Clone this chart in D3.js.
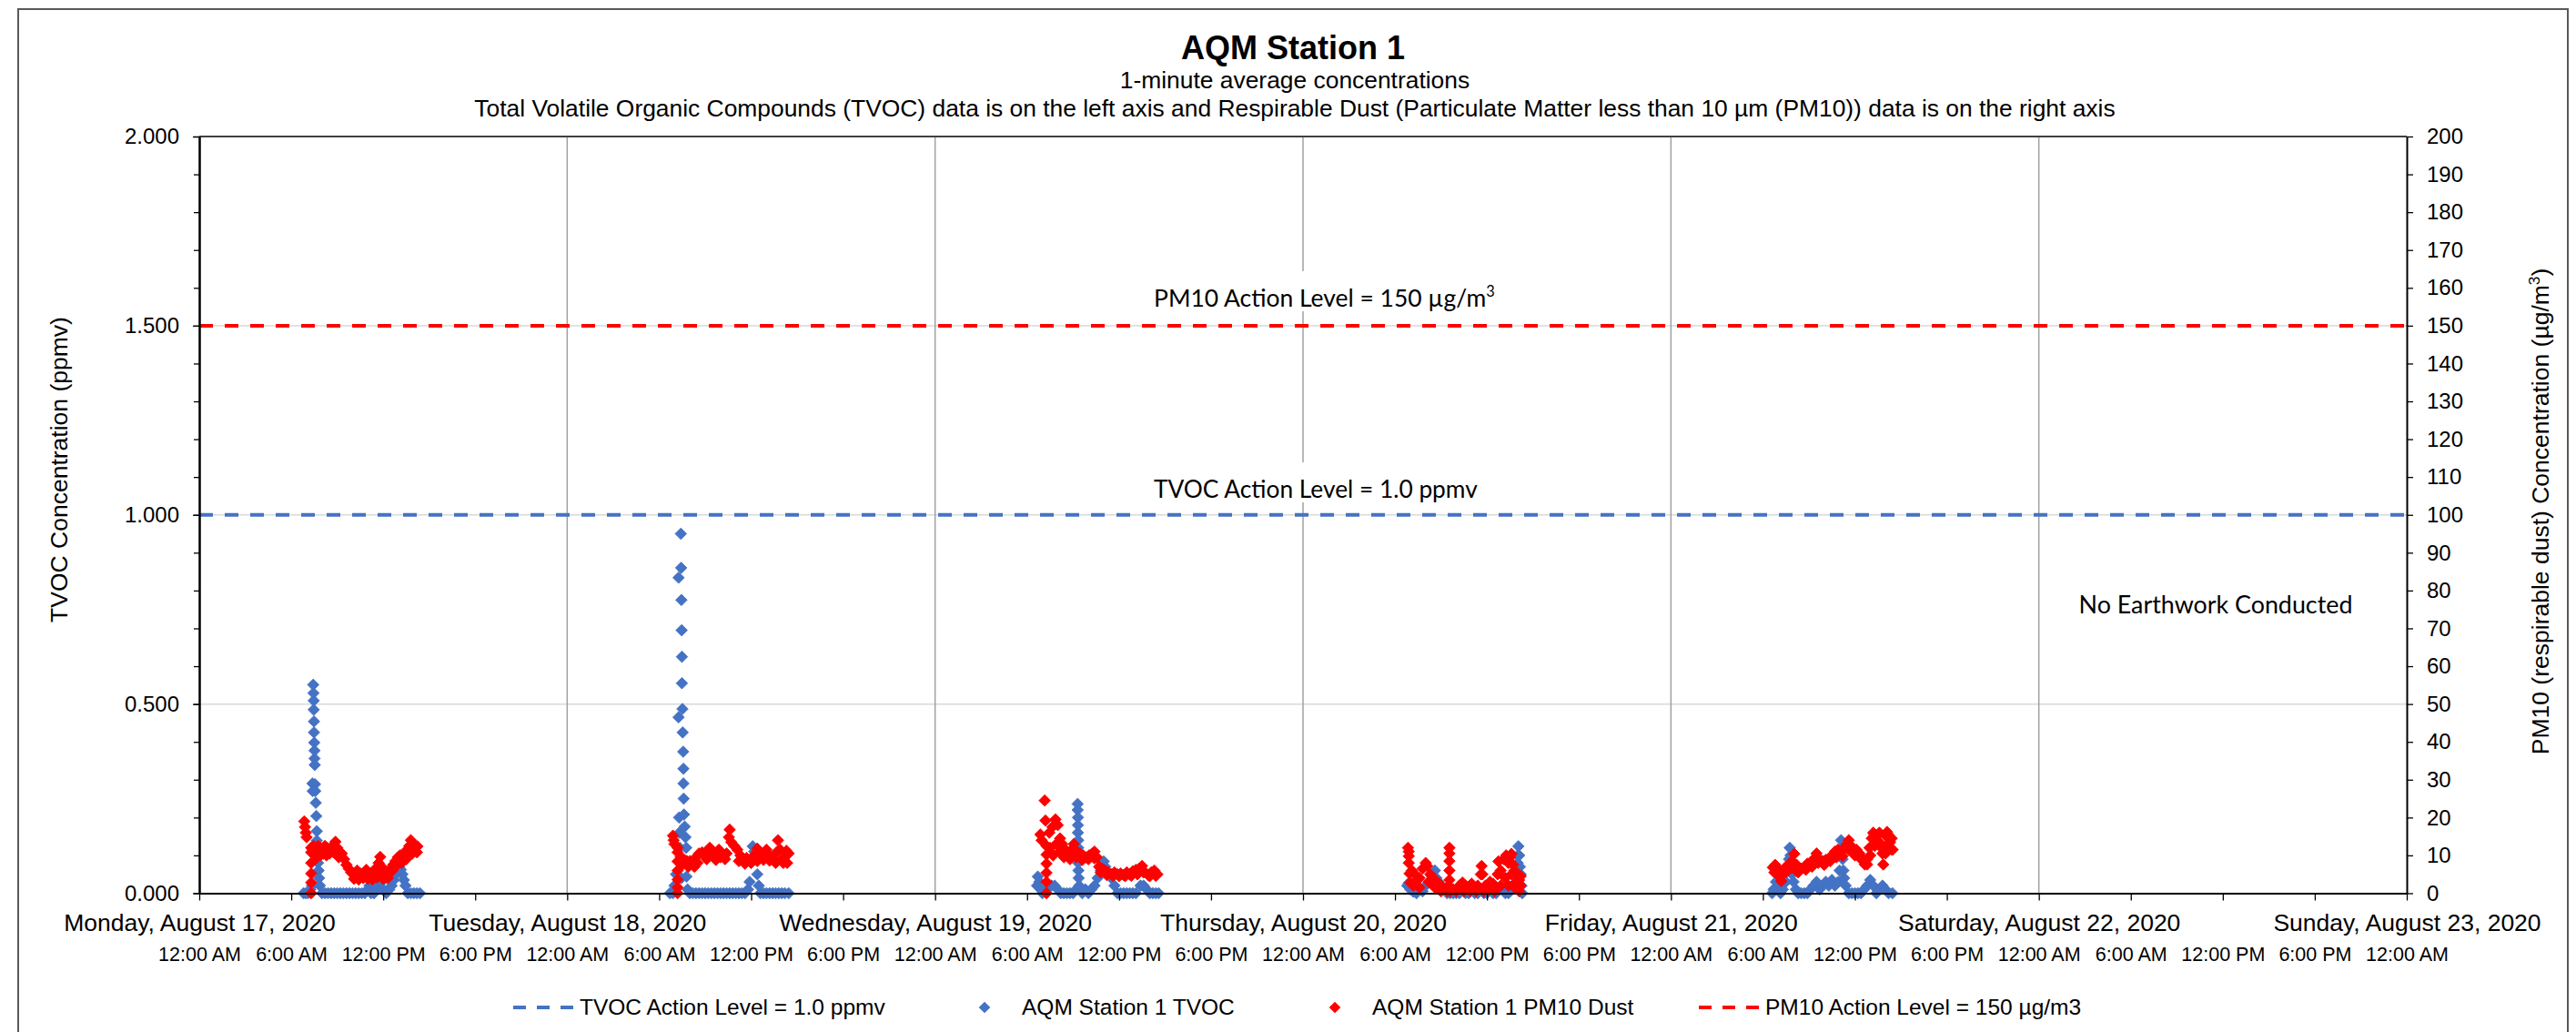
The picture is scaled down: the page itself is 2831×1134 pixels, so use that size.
<!DOCTYPE html>
<html><head><meta charset="utf-8">
<script src="https://cdn.jsdelivr.net/npm/d3@7"></script>
<style>body{margin:0;background:#fff;overflow:hidden}</style>
</head><body>
<svg id="chart" width="2831" height="1134"></svg>
<script>
// ---------------- DATA ----------------
const dayLabels = ["Monday, August 17, 2020","Tuesday, August 18, 2020","Wednesday, August 19, 2020","Thursday, August 20, 2020","Friday, August 21, 2020","Saturday, August 22, 2020","Sunday, August 23, 2020"];
const timeLabels = ["12:00 AM","6:00 AM","12:00 PM","6:00 PM"];
const tvocTickValues = [0, 0.5, 1.0, 1.5, 2.0];
const tvocMinorTicks = [0,0.1,0.2,0.3,0.4,0.5,0.6,0.7,0.8,0.9,1.0,1.1,1.2,1.3,1.4,1.5,1.6,1.7,1.8,1.9,2.0];
const pm10TickValues = [0,10,20,30,40,50,60,70,80,90,100,110,120,130,140,150,160,170,180,190,200];
const tvocActionLevel = 1.0;   // ppmv (left axis)
const pm10ActionLevel = 150;   // ug/m3 (right axis)

// [hour of day, TVOC ppmv]
const tvocMon = [[6.8,0],[6.95,0],[7.1,0],[7.25,0.01],[7.35,0.02],[7.38,0.29],[7.4,0.27],[7.44,0.551],[7.45,0.529],[7.46,0.509],[7.47,0.485],[7.48,0.454],[7.49,0.425],[7.5,0.398],[7.51,0.377],[7.52,0.356],[7.53,0.339],[7.55,0.288],[7.56,0.27],[7.6,0.239],[7.64,0.204],[7.66,0.164],[7.67,0.139],[7.7,0.12],[7.72,0.1],[7.75,0.08],[7.78,0.06],[7.82,0.04],[7.86,0.02],[8.0,0],[8.2,0],[8.4,0],[8.6,0],[8.8,0],[9.0,0],[9.2,0],[9.4,0],[9.6,0],[9.8,0],[10.0,0],[10.2,0],[10.4,0],[10.6,0],[10.8,0],[11.0,0.01],[11.1,0.02],[11.2,0],[11.4,0],[11.6,0.01],[11.75,0.025],[11.9,0.03],[12.0,0.01],[12.2,0],[12.4,0.01],[12.55,0.02],[12.7,0.035],[12.85,0.05],[12.95,0.06],[13.05,0.068],[13.15,0.062],[13.25,0.05],[13.35,0.035],[13.45,0.02],[13.6,0],[13.8,0],[14.0,0],[14.2,0],[14.4,0]];
const tvocTue = [[6.7,0],[6.9,0],[7.0,0.02],[7.1,0.05],[7.26,0.834],[7.26,0.465],[7.3,0.2],[7.32,0.16],[7.35,0.12],[7.4,0.08],[7.42,0.95],[7.43,0.86],[7.45,0.775],[7.45,0.04],[7.47,0.695],[7.49,0.625],[7.49,0.555],[7.52,0.487],[7.54,0.425],[7.56,0.374],[7.58,0.329],[7.58,0.29],[7.6,0.25],[7.62,0.208],[7.66,0.176],[7.72,0.148],[7.76,0.12],[7.78,0.084],[7.78,0.044],[7.85,0.01],[8.0,0],[8.2,0],[8.4,0],[8.6,0],[8.8,0],[9.0,0],[9.2,0],[9.4,0],[9.6,0],[9.8,0],[10.0,0],[10.2,0],[10.4,0],[10.6,0],[10.8,0],[11.0,0],[11.2,0],[11.4,0],[11.6,0],[11.8,0.01],[11.9,0.03],[12.0,0.08],[12.1,0.124],[12.2,0.11],[12.3,0.09],[12.4,0.05],[12.5,0.02],[12.6,0],[12.8,0],[13.0,0],[13.2,0],[13.4,0],[13.6,0],[13.8,0],[14.0,0],[14.2,0],[14.45,0]];
const tvocWed = [[6.65,0.02],[6.7,0.044],[6.8,0.03],[6.9,0.01],[7.0,0],[7.2,0.01],[7.4,0.02],[7.6,0.02],[7.8,0.02],[8.0,0.01],[8.2,0],[8.4,0],[8.6,0],[8.8,0],[9.0,0],[9.2,0.01],[9.3,0.236],[9.3,0.22],[9.31,0.2],[9.32,0.18],[9.32,0.16],[9.33,0.14],[9.33,0.12],[9.34,0.1],[9.34,0.08],[9.35,0.06],[9.36,0.04],[9.4,0.02],[9.6,0],[9.8,0.01],[10.0,0],[10.2,0.01],[10.4,0.02],[10.6,0.04],[10.8,0.06],[11.0,0.084],[11.1,0.07],[11.3,0.05],[11.5,0.04],[11.7,0.02],[11.9,0],[12.1,0],[12.3,0],[12.5,0],[12.7,0],[12.9,0],[13.1,0],[13.4,0.02],[13.6,0.02],[13.8,0.01],[14.0,0],[14.2,0],[14.4,0],[14.58,0]];
const tvocThu = [[6.8,0.02],[6.9,0.027],[7.0,0.01],[7.2,0.004],[7.4,0],[7.6,0.01],[7.8,0.005],[8.0,0.02],[8.2,0.03],[8.4,0.045],[8.6,0.06],[8.7,0.04],[8.85,0.03],[9.0,0.02],[9.2,0.01],[9.4,0],[9.6,0],[9.8,0],[10.0,0],[10.2,0],[10.4,0.01],[10.6,0],[10.8,0],[11.0,0.01],[11.2,0],[11.4,0],[11.6,0.01],[11.8,0],[12.0,0],[12.2,0.01],[12.4,0],[12.6,0],[12.8,0.01],[13.0,0.01],[13.2,0],[13.4,0],[13.6,0.01],[13.8,0.02],[13.9,0.03],[13.95,0.05],[14.0,0.08],[14.02,0.1],[14.05,0.124],[14.1,0.1],[14.15,0.07],[14.2,0.05],[14.25,0.02],[14.3,0]];
const tvocFri = [[6.6,0],[6.7,0.01],[6.85,0.03],[7.0,0.01],[7.15,0],[7.3,0.01],[7.5,0.03],[7.65,0.06],[7.7,0.09],[7.75,0.12],[7.8,0.1],[7.85,0.07],[7.9,0.05],[8.0,0.03],[8.15,0.01],[8.3,0],[8.5,0],[8.7,0],[8.9,0],[9.1,0.01],[9.3,0.02],[9.5,0.03],[9.7,0.01],[9.9,0.02],[10.1,0.03],[10.3,0.02],[10.5,0.035],[10.7,0.02],[10.9,0.03],[11.0,0.06],[11.05,0.1],[11.1,0.14],[11.15,0.12],[11.2,0.09],[11.25,0.06],[11.3,0.04],[11.4,0.02],[11.6,0],[11.8,0],[12.0,0],[12.2,0],[12.4,0],[12.6,0.01],[12.8,0.02],[13.0,0.035],[13.2,0.02],[13.4,0],[13.6,0.01],[13.8,0.02],[14.0,0.01],[14.2,0],[14.45,0]];

// [hour of day, PM10 ug/m3]
const pm10Mon = [[6.85,19.0],[6.9,17.5],[6.95,16],[7.0,14.8],[7.3,12],[7.3,10.8],[7.3,8],[7.3,5.2],[7.3,2.8],[7.3,0],[7.45,12.5],[7.6,11.5],[7.75,12.5],[7.9,12],[8.05,11.5],[8.2,12.5],[8.35,12],[8.5,11.5],[8.7,12.5],[8.88,13.6],[9.0,12],[9.15,11],[9.3,10.5],[9.45,9],[9.6,7.5],[9.75,6.5],[9.9,5.5],[10.05,5],[10.2,4.5],[10.35,4.8],[10.5,5.2],[10.65,4.6],[10.8,5],[10.95,5.5],[11.1,4.8],[11.25,5.2],[11.4,4.6],[11.55,5.5],[11.7,8],[11.8,9.6],[11.9,7],[12.05,5],[12.2,4.5],[12.35,5.5],[12.5,6.5],[12.65,7.5],[12.8,8.5],[12.95,9.5],[13.1,10],[13.25,9.5],[13.4,10.5],[13.55,11.5],[13.7,12.5],[13.8,14],[13.95,13],[14.1,12],[14.24,12.4],
  [7.5,10],[7.7,9.5],[7.9,10],[8.1,10.5],[8.3,10],[8.5,10.5],[8.7,11],[8.9,11],[9.1,9.5],[10.1,3.8],[10.4,3.6],[10.7,4],[11.0,3.8],[11.3,3.6],[11.6,4.2],[12.0,3.8],[12.3,4],[10.3,6],[10.9,6.2],[11.5,6.5],[12.6,6],[12.9,7.5],[13.2,8],[13.5,9],[13.9,10.5],[14.2,10.8]];
const pm10Tue = [[6.9,15.2],[6.95,14],[7.0,13],[7.2,12],[7.2,10.8],[7.2,8.4],[7.2,6],[7.2,3.6],[7.2,1.5],[7.2,0],[7.4,9.5],[7.6,9],[7.8,8.5],[8.0,8.5],[8.2,8],[8.3,7],[8.4,9.5],[8.6,10.5],[8.8,10.8],[9.0,10.5],[9.2,11],[9.4,10.5],[9.6,10.2],[9.8,10.5],[10.0,9.5],[10.2,9.8],[10.4,10.5],[10.55,14.8],[10.6,16.8],[10.7,13.5],[10.9,12.5],[11.1,11.5],[11.3,10],[11.5,9],[11.7,9.3],[11.9,8.8],[12.1,9.5],[12.3,10.5],[12.5,10],[12.7,10.3],[12.9,9.8],[13.1,10.2],[13.3,9.5],[13.5,8.8],[13.7,11],[13.75,14],[13.9,11.5],[14.1,8],[14.2,9.5],[14.3,11.2],[14.45,10.5],
  [7.5,7.5],[7.9,7],[8.5,8],[9.1,9],[9.7,8.8],[10.3,9],[11.2,8.5],[11.6,7.8],[12.0,8],[12.4,8.5],[12.8,8.8],[13.2,8.6],[13.6,8],[14.0,9],[14.35,8],[9.3,12],[9.9,11.5],[12.4,11.8],[13.0,11.5]];
const pm10Wed = [[6.87,15.5],[6.95,14],[7.15,24.5],[7.2,19.2],[7.26,12.5],[7.26,10.2],[7.26,7.8],[7.26,5.4],[7.26,3],[7.26,0],[7.45,16],[7.65,17.5],[7.85,19.5],[8.0,18],[8.15,14.5],[8.3,13],[8.5,11.5],[8.7,10.5],[8.9,11.5],[9.05,13],[9.25,11],[9.45,10.5],[9.65,10],[9.85,9.5],[10.05,10],[10.25,10.5],[10.4,11],[10.55,9.5],[10.7,7],[10.9,6.5],[11.1,6],[11.3,5.5],[11.5,5],[11.7,5.5],[11.9,5],[12.1,5.2],[12.3,4.8],[12.5,5.5],[12.7,5],[12.9,5.8],[13.1,6.2],[13.3,6.5],[13.5,7.2],[13.7,5.5],[13.9,4.8],[14.1,5.5],[14.3,6],[14.5,5],
  [7.5,12],[7.7,10],[7.9,13],[8.1,11],[8.4,9.5],[8.8,9],[9.2,9.5],[9.6,8.8],[10.0,9],[10.4,9.2],[10.8,5.5],[11.2,4.8],[11.6,4.6],[12.0,4.5],[12.4,4.5],[12.8,4.6],[13.2,5],[13.6,5.5],[14.0,4.5],[14.4,4.6]];
const pm10Thu = [[6.85,12],[6.9,11],[6.9,9.8],[6.9,8],[6.95,5.2],[7.0,2.8],[7.1,6],[7.3,5],[7.45,3.5],[7.6,4],[7.8,6.5],[8.0,8],[8.1,7.2],[8.3,5],[8.5,4],[8.7,3],[8.9,2.5],[9.1,1.5],[9.3,1],[9.5,2],[9.55,12],[9.55,10.5],[9.55,8.5],[9.55,6],[9.55,3.5],[9.6,0.5],[9.8,1],[10.0,0.5],[10.2,2],[10.4,2.8],[10.6,2],[10.8,1.5],[11.0,2.5],[11.2,1.2],[11.4,2],[11.6,5],[11.65,7.2],[11.7,5],[11.9,2],[12.1,0.8],[12.3,1.5],[12.5,0.5],[12.7,5],[12.75,8.4],[12.9,6],[13.1,9],[13.25,10],[13.4,8],[13.5,9.5],[13.6,10.4],[13.7,7.5],[13.8,6],[13.9,3],[14.0,1.5],[14.1,0.5],[14.2,2],
  [7.2,2],[7.6,1.5],[8.2,3],[8.6,1.5],[9.0,0.5],[9.4,0.5],[10.1,1],[10.5,0.5],[10.9,0.5],[11.3,0.5],[11.8,0.5],[12.2,3],[12.4,2.5],[12.9,2],[13.2,4],[13.4,2],[13.6,5],[13.8,1.5],[14.1,3.5],[14.2,4.5]];
const pm10Fri = [[6.65,6.8],[6.8,7.5],[6.95,6.5],[7.1,4.4],[7.2,3.2],[7.35,6],[7.5,7],[7.7,7.5],[7.9,8.5],[8.05,10.4],[8.2,7.5],[8.35,6.5],[8.5,6.5],[8.7,7],[8.9,7.8],[9.1,8],[9.3,9],[9.5,10.5],[9.7,9],[9.9,8.5],[10.1,8.8],[10.3,9.2],[10.5,10],[10.7,11],[10.9,11.5],[11.1,11],[11.3,12],[11.5,13],[11.6,14],[11.75,12.5],[11.9,11.5],[12.1,11.5],[12.3,10.5],[12.5,9],[12.65,7.6],[12.8,9],[12.95,12],[13.1,14.5],[13.25,15.6],[13.4,14],[13.55,15.6],[13.7,13],[13.8,10.5],[13.85,7.6],[13.95,12],[14.05,15],[14.15,15.6],[14.3,13.5],[14.4,14.5],[14.47,11.5],
  [6.75,5.5],[7.0,5],[7.5,5.5],[7.9,6.8],[8.3,5.5],[8.8,6.2],[9.2,7],[9.6,8],[10.0,7.5],[10.4,8.5],[10.8,9.5],[11.2,9.8],[11.6,11.5],[12.0,10],[12.4,9],[12.8,7.6],[13.0,10],[13.3,12.5],[13.6,12.5],[14.0,10.5],[14.2,12],[14.4,11.5],[13.2,16],[13.6,16],[14.1,16.2]];

const tvocByDay = [tvocMon, tvocTue, tvocWed, tvocThu, tvocFri];
const pm10ByDay = [pm10Mon, pm10Tue, pm10Wed, pm10Thu, pm10Fri];

// ---------------- LAYOUT ----------------
const FONT = "'Liberation Sans', Arial, sans-serif";
const CAL = "Lato, 'Open Sans', sans-serif";
const BLUE = "#4472C4", RED = "#FF0000";
const svg = d3.select("#chart");
const P = {left:219, right:2645, top:150, bottom:981.5};
const t0 = new Date(2020,7,17), t1 = new Date(2020,7,23);
const x = d3.scaleTime().domain([t0,t1]).range([P.left,P.right]);
const yL = d3.scaleLinear().domain([0,2]).range([P.bottom,P.top]);
const yR = d3.scaleLinear().domain([0,200]).range([P.bottom,P.top]);
const toDate = (day,h) => new Date(2020,7,17+day,0,Math.round(h*60));

function flat(byDay){ const out=[]; byDay.forEach((arr,d)=>arr.forEach(([h,v])=>out.push({t:toDate(d,h),v}))); return out; }
const tvocPts = flat(tvocByDay), pm10Pts = flat(pm10ByDay);

svg.append("rect").attr("x",20).attr("y",10).attr("width",2802).attr("height",1200)
  .attr("fill","#fff").attr("stroke","#595959").attr("stroke-width",2);

// Title
svg.append("text").attr("x",1421).attr("y",65).attr("text-anchor","middle")
  .attr("font-family",FONT).attr("font-weight","bold").attr("font-size",36).text("AQM Station 1");
svg.append("text").attr("x",1423).attr("y",97).attr("text-anchor","middle")
  .attr("font-family",FONT).attr("font-size",26.4).text("1-minute average concentrations");
svg.append("text").attr("x",1423).attr("y",128).attr("text-anchor","middle")
  .attr("font-family",FONT).attr("font-size",26.4)
  .text("Total Volatile Organic Compounds (TVOC) data is on the left axis and Respirable Dust (Particulate Matter less than 10 µm (PM10)) data is on the right axis");

// Gridlines
const days = d3.timeDay.range(t0, t1).slice(1);
svg.append("g").selectAll("line").data(tvocTickValues.filter(v=>v>0&&v<2)).join("line")
  .attr("x1",P.left).attr("x2",P.right).attr("y1",d=>yL(d)).attr("y2",d=>yL(d))
  .attr("stroke","#d9d9d9").attr("stroke-width",1.5);
svg.append("g").selectAll("line").data(days).join("line")
  .attr("x1",d=>x(d)).attr("x2",d=>x(d)).attr("y1",P.top).attr("y2",P.bottom)
  .attr("stroke","#a0a0a0").attr("stroke-width",1.5);
svg.append("line").attr("x1",P.left).attr("x2",P.right).attr("y1",P.top).attr("y2",P.top)
  .attr("stroke","#404040").attr("stroke-width",2);

// Action label boxes & labels
function fitWidth(sel, target){ const w=sel.node().getComputedTextLength(); const fs=parseFloat(sel.attr("font-size")); sel.attr("font-size", fs*target/w); }
function actionLabel(baseline, parts, width){
  const g = svg.append("g");
  const bg = g.append("rect").attr("fill","#fff");
  const t = g.append("text").attr("x",1268).attr("y",baseline).attr("font-family",CAL).attr("font-size",27).attr("fill","#000");
  parts(t);
  fitWidth(t,width);
  const bb = t.node().getBBox();
  bg.attr("x",bb.x-6).attr("y",baseline-39).attr("width",bb.width+12).attr("height",44);
}
actionLabel(337, t=>{ t.append("tspan").text("PM10 Action Level = 150 µg/m"); t.append("tspan").attr("font-size","0.62em").attr("dy","-0.7em").text("3"); }, 375);
actionLabel(547, t=>{ t.append("tspan").text("TVOC Action Level = 1.0 ppmv"); }, 356);

// Action lines
svg.append("line").attr("x1",P.left).attr("x2",P.right).attr("y1",yR(pm10ActionLevel)).attr("y2",yR(pm10ActionLevel))
  .attr("stroke",RED).attr("stroke-width",4).attr("stroke-dasharray","15,13");
svg.append("line").attr("x1",P.left).attr("x2",P.right).attr("y1",yL(tvocActionLevel)).attr("y2",yL(tvocActionLevel))
  .attr("stroke",BLUE).attr("stroke-width",4).attr("stroke-dasharray","15,13");

// No earthwork
const ne = svg.append("text").attr("x",2435).attr("y",674).attr("text-anchor","middle")
  .attr("font-family",CAL).attr("font-size",28).text("No Earthwork Conducted");
fitWidth(ne,301);

// Markers
const diamond = d3.symbol().type(d3.symbolSquare).size(80);
svg.append("g").selectAll("path").data(tvocPts).join("path")
  .attr("d",diamond).attr("transform",d=>`translate(${x(d.t)},${yL(d.v)}) rotate(45)`)
  .attr("fill",BLUE).attr("stroke",BLUE).attr("stroke-width",0.8);
svg.append("g").selectAll("path").data(pm10Pts).join("path")
  .attr("d",diamond).attr("transform",d=>`translate(${x(d.t)},${yR(d.v)}) rotate(45)`)
  .attr("fill",RED).attr("stroke",RED).attr("stroke-width",0.8);

// Axes
function styleAxis(g){ g.selectAll("path.domain").attr("stroke","#000").attr("stroke-width",2); g.selectAll(".tick line").attr("stroke","#000").attr("stroke-width",1.3); }
svg.append("g").attr("transform",`translate(${P.left},0)`)
  .call(d3.axisLeft(yL).tickValues(tvocMinorTicks).tickSize(6).tickSizeOuter(0).tickFormat(""))
  .call(styleAxis);
const gl = svg.append("g").attr("transform",`translate(${P.left},0)`)
  .call(d3.axisLeft(yL).tickValues(tvocTickValues).tickSize(7).tickSizeOuter(0).tickPadding(15).tickFormat(d3.format(".3f")))
  .call(styleAxis);
gl.selectAll("text").attr("font-family",FONT).attr("font-size",24).attr("fill","#000");
const gr = svg.append("g").attr("transform",`translate(${P.right},0)`)
  .call(d3.axisRight(yR).tickValues(pm10TickValues).tickSize(7).tickSizeOuter(0).tickPadding(15))
  .call(styleAxis);
gr.selectAll("text").attr("font-family",FONT).attr("font-size",24).attr("fill","#000");

const gx = svg.append("g").attr("transform",`translate(0,${P.bottom})`)
  .call(d3.axisBottom(x).ticks(d3.timeHour.every(6)).tickSize(8).tickSizeOuter(0)
     .tickFormat(d=>timeLabels[d.getHours()/6]))
  .call(styleAxis);
gx.selectAll("text").attr("font-family",FONT).attr("font-size",21.5).attr("fill","#000").attr("dy",null).attr("y",1056-P.bottom);
const gd = svg.append("g").attr("transform",`translate(0,${P.bottom})`)
  .call(d3.axisBottom(x).ticks(d3.timeDay.every(1)).tickSize(0).tickSizeOuter(0)
     .tickFormat(d=>dayLabels[d3.timeDay.count(t0,d)]));
gd.select("path.domain").remove();
gd.selectAll("text").attr("font-family",FONT).attr("font-size",26.5).attr("fill","#000").attr("dy",null).attr("y",1023-P.bottom);

// Axis titles
svg.append("text").attr("transform","translate(74,516) rotate(-90)").attr("text-anchor","middle")
  .attr("font-family",FONT).attr("font-size",26.5).text("TVOC Concentration (ppmv)");
const rt = svg.append("text").attr("transform","translate(2801,562) rotate(-90)").attr("text-anchor","middle")
  .attr("font-family",FONT).attr("font-size",26.5);
rt.append("tspan").text("PM10 (respirable dust) Concentration (µg/m");
rt.append("tspan").attr("font-size","0.65em").attr("dy","-0.6em").text("3");
rt.append("tspan").attr("dy","0.39em").text(")");

// Legend
const LY = 1107, LB = 1115, LF = 24.5;
const legend = [
  {type:"line", color:BLUE, x:564, label:"TVOC Action Level = 1.0 ppmv"},
  {type:"dot", color:BLUE, x:1082, label:"AQM Station 1 TVOC"},
  {type:"dot", color:RED, x:1467, label:"AQM Station 1 PM10 Dust"},
  {type:"line", color:RED, x:1867, label:"PM10 Action Level = 150 µg/m3"}
];
legend.forEach(it=>{
  let tx;
  if(it.type==="line"){
    svg.append("line").attr("x1",it.x).attr("x2",it.x+68).attr("y1",LY).attr("y2",LY)
      .attr("stroke",it.color).attr("stroke-width",4).attr("stroke-dasharray","14,12");
    tx = it.x+73;
  } else {
    svg.append("path").attr("d",diamond).attr("transform",`translate(${it.x},${LY}) rotate(45)`).attr("fill",it.color);
    tx = it.x+41;
  }
  svg.append("text").attr("x",tx).attr("y",LB).attr("font-family",FONT).attr("font-size",LF).text(it.label);
});
</script>
</body></html>
